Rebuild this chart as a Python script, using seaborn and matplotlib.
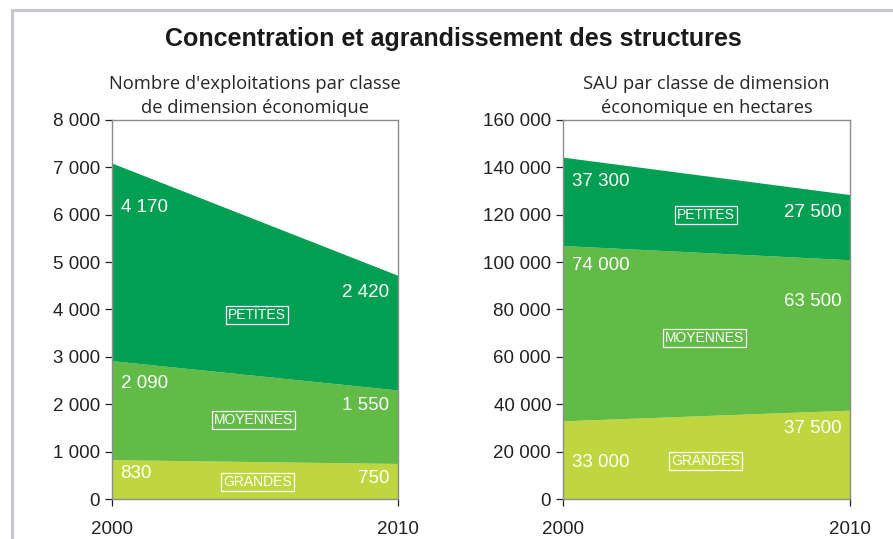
import matplotlib.pyplot as plt
import matplotlib.ticker as mticker
from matplotlib.lines import Line2D
import seaborn as sns

YEARS = [2000, 2010]
CLASSES = ["GRANDES", "MOYENNES", "PETITES"]

EXPL_GRANDES = [830, 750]
EXPL_MOYENNES = [2090, 1550]
EXPL_PETITES = [4170, 2420]

SAU_GRANDES = [33000, 37500]
SAU_MOYENNES = [74000, 63500]
SAU_PETITES = [37300, 27500]

TITLE = "Concentration et agrandissement des structures"
SUB_LEFT = "Nombre d'exploitations par classe\nde dimension économique"
SUB_RIGHT = "SAU par classe de dimension\néconomique en hectares"

COLORS = ["#bfd63e", "#62bb47", "#009f52"]


def fmt_space(v, _pos=None):
    return f"{int(round(v)):,}".replace(",", " ")


def draw_panel(ax, series, ymax, step, subtitle, start_pos, end_pos, box_pos):
    ax.stackplot(YEARS, *series, colors=COLORS, linewidth=0)
    ax.set_xlim(YEARS[0], YEARS[-1])
    ax.set_ylim(0, ymax)
    ax.set_xticks(YEARS)
    ax.yaxis.set_major_locator(mticker.MultipleLocator(step))
    ax.yaxis.set_major_formatter(mticker.FuncFormatter(fmt_space))
    ax.tick_params(axis="both", labelsize=13.5, colors="#222222", length=5, width=0.9,
                   labelfontfamily="Liberation Sans")
    ax.tick_params(axis="x", pad=11)
    for side in ["top", "right", "bottom", "left"]:
        ax.spines[side].set_visible(True)
        ax.spines[side].set_color("#8c8c8c")
        ax.spines[side].set_linewidth(1.0)
    ax.set_title(subtitle, fontsize=13.2, family="Open Sans", pad=5, linespacing=1.45)

    for vals, sp, ep, bp, name in zip(series, start_pos, end_pos, box_pos, CLASSES):
        ax.text(0.03, sp, fmt_space(vals[0]), transform=ax.transAxes, color="white",
                fontsize=13.5, family="Liberation Sans", ha="left", va="center")
        ax.text(0.97, ep, fmt_space(vals[-1]), transform=ax.transAxes, color="white",
                fontsize=13.5, family="Liberation Sans", ha="right", va="center")
        ax.text(bp[0], bp[1], name, transform=ax.transAxes, color="white",
                fontsize=10, family="Liberation Sans", ha="center", va="center",
                bbox=dict(boxstyle="square,pad=0.15", fc="none", ec="white", lw=0.9))


def main():
    sns.set_style("ticks")
    plt.rcParams["font.family"] = ["Liberation Sans", "DejaVu Sans"]

    fig = plt.figure(figsize=(8.93, 5.39), dpi=100)
    ax1 = fig.add_axes([0.1254, 0.0742, 0.3203, 0.7032])
    ax2 = fig.add_axes([0.6305, 0.0742, 0.3214, 0.7032])

    # label positions as axes fractions: grandes, moyennes, petites
    draw_panel(ax1, [EXPL_GRANDES, EXPL_MOYENNES, EXPL_PETITES], 8000, 1000, SUB_LEFT,
               [0.066, 0.306, 0.770], [0.053, 0.248, 0.546],
               [(0.508, 0.045), (0.494, 0.208), (0.508, 0.485)])
    draw_panel(ax2, [SAU_GRANDES, SAU_MOYENNES, SAU_PETITES], 160000, 20000, SUB_RIGHT,
               [0.095, 0.617, 0.839], [0.187, 0.520, 0.755],
               [(0.496, 0.100), (0.493, 0.425), (0.498, 0.749)])

    fig.text(0.508, 0.927, TITLE, ha="center", va="center", fontsize=18,
             fontweight="bold", family="Liberation Sans", color="#1a1a1a")

    frame_kw = dict(transform=fig.transFigure, color="#c6c6cc", lw=2.2)
    fig.add_artist(Line2D([0.0134, 1.0], [0.981, 0.981], **frame_kw))
    fig.add_artist(Line2D([0.0134, 0.0134], [0.0, 0.981], **frame_kw))

    fig.savefig("out.png", dpi=100)
    plt.close(fig)


if __name__ == "__main__":
    main()
